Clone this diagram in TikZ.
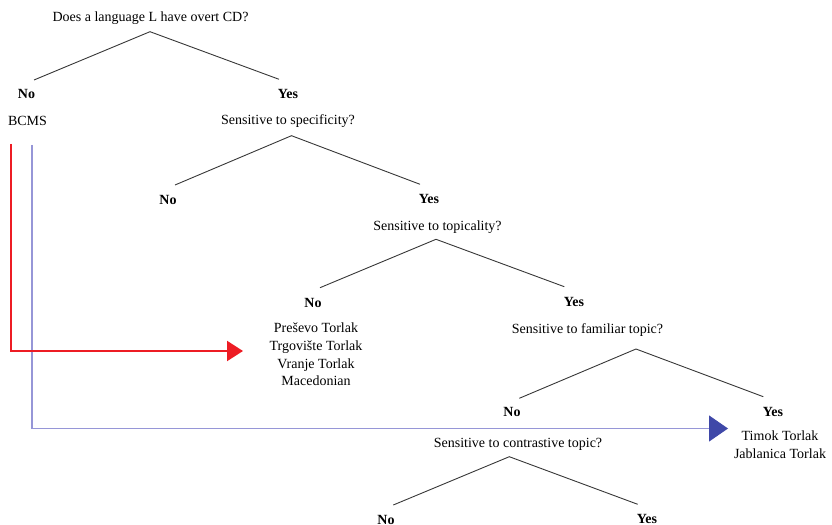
\documentclass[tikz,border=0pt]{standalone}
\usepackage{fontspec}
\setmainfont{Liberation Serif}
\usetikzlibrary{arrows.meta}
\definecolor{treeline}{RGB}{55,55,55}
\definecolor{redarrow}{RGB}{237,28,36}
\definecolor{bluearrow}{RGB}{63,72,168}
\definecolor{blueline}{RGB}{150,150,215}
\begin{document}
\begin{tikzpicture}[x=1bp,y=-1bp,
  txt/.style={font=\fontsize{14bp}{17.7bp}\selectfont, inner sep=0pt, anchor=base, align=center},
  ans/.style={txt, font=\fontsize{14bp}{17.7bp}\selectfont\bfseries},
  branch/.style={draw=treeline, line width=0.9bp}]
\useasboundingbox (0,0) rectangle (832,525);

% questions and answers
\node[txt] (q1) at (150.5,22) {Does a language L have overt CD?};
\node[ans] (n1) at (26.5,99) {No};
\node[ans] (y1) at (288,99) {Yes};
\node[txt] (bcms) at (27.5,126) {BCMS};
\node[txt] (q2) at (288,125) {Sensitive to specificity?};
\node[ans] (n2) at (168,205) {No};
\node[ans] (y2) at (429,203.5) {Yes};
\node[txt] (q3) at (437.5,231) {Sensitive to topicality?};
\node[ans] (n3) at (313,308) {No};
\node[ans] (y3) at (574,307) {Yes};
\node[txt] (l3) at (316,385.8) {Preševo Torlak\\Trgovište Torlak\\Vranje Torlak\\Macedonian};
\node[txt] (q4) at (587.5,333) {Sensitive to familiar topic?};
\node[ans] (n4) at (512,416.5) {No};
\node[ans] (y4) at (773,416) {Yes};
\node[txt] (l4) at (780,458) {Timok Torlak\\Jablanica Torlak};
\node[txt] (q5) at (518,447.3) {Sensitive to contrastive topic?};
\node[ans] (n5) at (386,524) {No};
\node[ans] (y5) at (647,523.5) {Yes};

% branch points
\coordinate (a1) at (150,31.7);  \coordinate (a1l) at (34,80);   \coordinate (a1r) at (279,79.3);
\coordinate (a2) at (291.5,135.7); \coordinate (a2l) at (175,185); \coordinate (a2r) at (420,184.3);
\coordinate (a3) at (436,239.3); \coordinate (a3l) at (320,287.7); \coordinate (a3r) at (564.3,286.7);
\coordinate (a4) at (636,349);   \coordinate (a4l) at (519.3,398.3); \coordinate (a4r) at (763.3,396.7);
\coordinate (a5) at (509.3,456.7); \coordinate (a5l) at (393.3,505); \coordinate (a5r) at (637.7,504.3);

\draw[branch] (a1l) -- (a1) -- (a1r);
\draw[branch] (a2l) -- (a2) -- (a2r);
\draw[branch] (a3l) -- (a3) -- (a3r);
\draw[branch] (a4l) -- (a4) -- (a4r);
\draw[branch] (a5l) -- (a5) -- (a5r);

% arrows from BCMS
\coordinate (rs) at (10.7,144);
\coordinate (rc) at (10.7,351);
\coordinate (re) at (243,351);
\coordinate (bs) at (32,145);
\coordinate (bc) at (32,428.5);
\coordinate (be) at (728,428.5);
\draw[blueline, line width=1.1bp, -{Triangle[length=19bp,width=26bp,color=bluearrow]}] (bs) -- (bc) -- (be);
\draw[redarrow, line width=2.2bp, -{Triangle[length=16bp,width=20bp]}] (rs) -- (rc) -- (re);
\end{tikzpicture}
\end{document}
